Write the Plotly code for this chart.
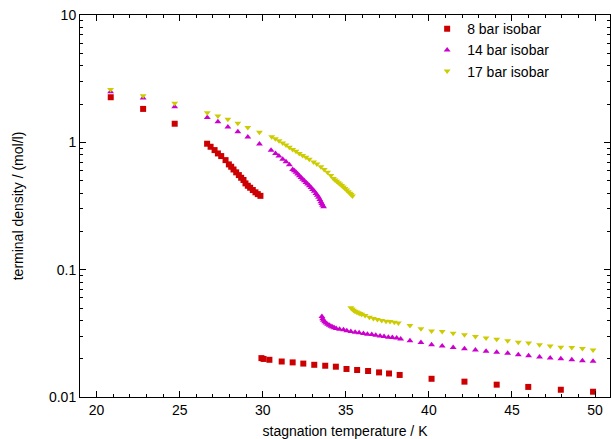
import plotly.graph_objects as go

# 8 bar isobar
t8 = [20.85, 22.8, 24.7, 26.65, 26.86, 27.1, 27.3, 27.5, 27.76, 27.96, 28.1, 28.24, 28.4,
      28.56, 28.7, 28.84, 28.96, 29.1, 29.24, 29.4, 29.56, 29.7, 29.86,
      29.92, 30.05, 30.4, 31.14, 31.8, 32.44, 33.1, 33.76, 34.4, 35.04, 35.68, 36.34,
      37.0, 37.6, 38.24, 40.16, 42.14, 44.08, 45.98, 47.94, 49.88]
rho8 = [2.26, 1.83, 1.40, 0.975, 0.923, 0.869, 0.818, 0.780, 0.725, 0.671, 0.643, 0.612, 0.581,
        0.553, 0.527, 0.506, 0.476, 0.456, 0.440, 0.422, 0.405, 0.392, 0.380,
        0.0202, 0.0199, 0.0196, 0.0190, 0.0187, 0.0183, 0.0179, 0.0176, 0.0173, 0.0166, 0.0163, 0.0160,
        0.0156, 0.0153, 0.0149, 0.0139, 0.0132, 0.0125, 0.0120, 0.0114, 0.0110]

# 14 bar isobar
t14 = [20.84, 22.8, 24.7, 26.66, 27.3, 27.9, 28.5, 29.1, 29.8, 30.5, 30.77, 30.97, 31.2, 31.4, 31.6,
       31.8, 31.9, 32.0, 32.1, 32.2, 32.3, 32.4, 32.5, 32.6, 32.7, 32.8, 32.9, 33.0, 33.1, 33.2,
       33.28, 33.36, 33.43, 33.5, 33.55, 33.6, 33.66,
       33.56, 33.6, 33.65, 33.72, 33.8, 33.9, 34.0, 34.1, 34.2, 34.3, 34.42, 34.62, 34.86, 35.06,
       35.3, 35.56, 35.8, 36.06, 36.3, 36.56, 36.8, 37.06, 37.3, 37.56, 37.8, 38.06, 38.3,
       38.86, 39.52, 40.16, 40.8, 41.46, 42.14, 42.8, 43.44, 44.08, 44.74, 45.38, 46.0, 46.66,
       47.3, 47.94, 48.6, 49.24, 49.88]
rho14 = [2.50, 2.23, 1.90, 1.57, 1.45, 1.32, 1.21, 1.10, 0.97, 0.865, 0.818, 0.780, 0.738, 0.703, 0.667,
         0.613, 0.597, 0.581, 0.563, 0.546, 0.530, 0.514, 0.499, 0.484, 0.470, 0.456, 0.441, 0.427, 0.412, 0.397,
         0.384, 0.370, 0.355, 0.341, 0.331, 0.321, 0.312,
         0.0428, 0.0412, 0.0400, 0.0390, 0.0381, 0.0373, 0.0366, 0.0360, 0.0355, 0.0350, 0.0345, 0.0341, 0.0337, 0.0332,
         0.0327, 0.0323, 0.0319, 0.0315, 0.0311, 0.0309, 0.0305, 0.0302, 0.0298, 0.0295, 0.0293, 0.0290, 0.0286,
         0.0276, 0.0268, 0.0257, 0.0252, 0.0245, 0.0239, 0.0234, 0.0229, 0.0225, 0.0221, 0.0215, 0.0211, 0.0206,
         0.0202, 0.0200, 0.0196, 0.0193, 0.0191]

# 17 bar isobar
t17 = [20.84, 22.8, 24.7, 26.66, 27.3, 27.9, 28.5, 29.1, 29.8, 30.54, 30.76, 30.98, 31.2, 31.4, 31.6,
       31.8, 32.0, 32.2, 32.4, 32.6, 32.8, 33.06, 33.26, 33.5, 33.7, 33.9, 34.1,
       34.25, 34.35, 34.45, 34.55, 34.65, 34.75, 34.85, 34.95, 35.05, 35.15, 35.25, 35.32, 35.4,
       35.3, 35.38, 35.46, 35.55, 35.65, 35.75, 35.85, 35.96, 36.16, 36.42, 36.66, 36.9, 37.16,
       37.42, 37.66, 37.92, 38.16, 38.86, 39.52, 40.16, 40.8, 41.46, 42.14, 42.8, 43.44, 44.08,
       44.74, 45.38, 46.0, 46.66, 47.3, 47.94, 48.6, 49.24, 49.88]
rho17 = [2.60, 2.32, 2.03, 1.71, 1.61, 1.52, 1.41, 1.31, 1.20, 1.107, 1.067, 1.03, 0.99, 0.955, 0.915,
         0.880, 0.853, 0.818, 0.789, 0.762, 0.735, 0.700, 0.675, 0.643, 0.613, 0.583, 0.548,
         0.520, 0.506, 0.494, 0.482, 0.470, 0.458, 0.446, 0.434, 0.422, 0.410, 0.398, 0.389, 0.379,
         0.0503, 0.0490, 0.0480, 0.0472, 0.0465, 0.0458, 0.0452, 0.0446, 0.0436, 0.0423, 0.0413, 0.0406, 0.0398,
         0.0394, 0.0391, 0.0387, 0.0382, 0.0364, 0.0343, 0.0330, 0.0327, 0.0317, 0.0308, 0.0299, 0.0290, 0.0284,
         0.0277, 0.0269, 0.0265, 0.0257, 0.0252, 0.0246, 0.0245, 0.0240, 0.0234]

series_names = ["8 bar isobar", "14 bar isobar", "17 bar isobar"]
x_tickvals = [20, 25, 30, 35, 40, 45, 50]
y_tickvals = [0.01, 0.1, 1, 10]
y_ticktext = ["0.01", "0.1", "1", "10"]
y_minor = [m * 10 ** e for e in (-2, -1, 0) for m in range(2, 10)]

FONT = "Liberation Sans, Arial, sans-serif"
FS = 14

fig = go.Figure()
fig.add_trace(go.Scatter(x=t8, y=rho8, mode="markers", name=series_names[0],
                         marker=dict(symbol="square", size=6, color="#cc0000", line=dict(width=0))))
fig.add_trace(go.Scatter(x=t14, y=rho14, mode="markers", name=series_names[1],
                         marker=dict(symbol="triangle-up", size=6, color="#cc00cc", line=dict(width=0))))
fig.add_trace(go.Scatter(x=t17, y=rho17, mode="markers", name=series_names[2],
                         marker=dict(symbol="triangle-down", size=6, color="#cccc00", line=dict(width=0))))

axis_common = dict(showline=True, linecolor="black", linewidth=1, mirror="ticks",
                   ticks="inside", ticklen=6, tickcolor="black", tickwidth=1,
                   showgrid=False, zeroline=False,
                   tickfont=dict(family=FONT, size=FS, color="black"))

fig.update_xaxes(range=[19, 50.9], tickvals=x_tickvals,
                 title=dict(text="stagnation temperature / K", font=dict(family=FONT, size=FS, color="black"),
                            standoff=9),
                 minor=dict(dtick=1, ticks="inside", ticklen=3, tickcolor="black", showgrid=False),
                 **axis_common)
fig.update_yaxes(type="log", range=[-2, 1], tickvals=y_tickvals, ticktext=y_ticktext,
                 title=dict(text="terminal density / (mol/l)", font=dict(family=FONT, size=FS, color="black"),
                            standoff=22),
                 minor=dict(tickvals=y_minor, ticks="inside", ticklen=3, tickcolor="black", showgrid=False),
                 **axis_common)

fig.update_layout(
    width=611, height=439,
    margin=dict(l=80, r=1, t=15, b=42),
    paper_bgcolor="white", plot_bgcolor="white",
    font=dict(family=FONT, size=FS, color="black"),
    legend=dict(x=0.655, y=1.005, xanchor="left", yanchor="top",
                bgcolor="rgba(0,0,0,0)", font=dict(family=FONT, size=FS, color="black"),
                itemwidth=30, tracegroupgap=0),
    showlegend=True,
)

fig.write_html("out.html", config={"displayModeBar": False},
               post_script="document.body.style.margin='0';")
